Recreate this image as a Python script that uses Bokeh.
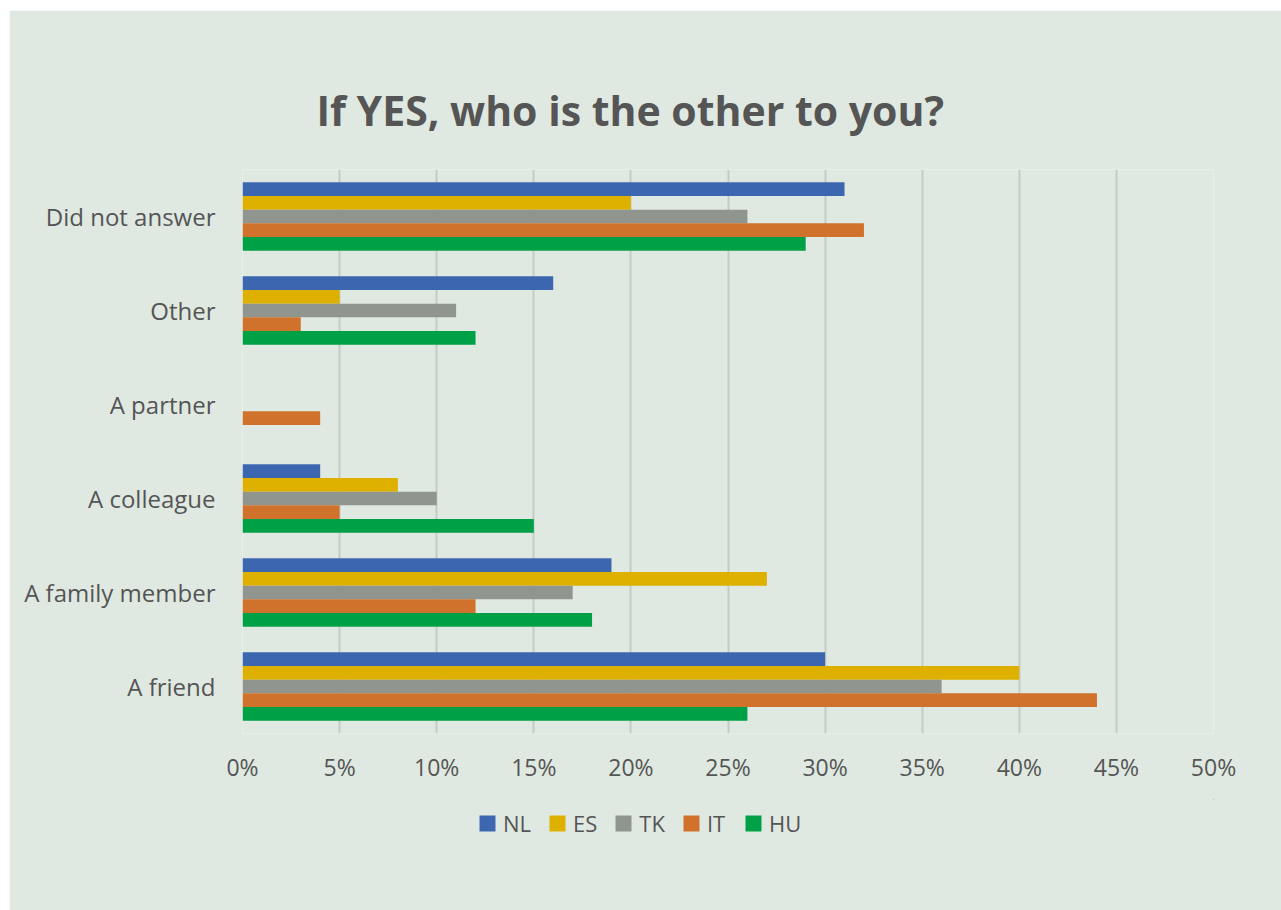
from bokeh.plotting import figure
from bokeh.models import FactorRange, Legend, LegendItem, NumeralTickFormatter, FixedTicker
from bokeh.layouts import column
from bokeh.transform import dodge
from bokeh.embed import file_html
from bokeh.resources import INLINE

categories = ["A friend", "A family member", "A colleague", "A partner", "Other", "Did not answer"]
series = ["NL", "ES", "TK", "IT", "HU"]
NL = [0.30, 0.19, 0.04, 0.00, 0.16, 0.31]
ES = [0.40, 0.27, 0.08, 0.00, 0.05, 0.20]
TK = [0.36, 0.17, 0.10, 0.00, 0.11, 0.26]
IT = [0.44, 0.12, 0.05, 0.04, 0.03, 0.32]
HU = [0.26, 0.18, 0.15, 0.00, 0.12, 0.29]
x_ticks = [0, 0.05, 0.10, 0.15, 0.20, 0.25, 0.30, 0.35, 0.40, 0.45, 0.50]
title_text = "If YES, who is the other to you?"

colors = ["#3C67B0", "#DEB000", "#909590", "#D0722C", "#00A046"]
BG = "#DFE9E1"
TXT = "#555555"
FONT = "Open Sans"

data = dict(cat=categories, NL=NL, ES=ES, TK=TK, IT=IT, HU=HU)

p = figure(width=1272, height=790, y_range=FactorRange(*categories), x_range=(0, 0.5),
           output_backend="svg", toolbar_location=None,
           min_border_left=233, min_border_right=68, min_border_top=159, min_border_bottom=67)
p.margin = (10, 0, 0, 9)
p.background_fill_color = BG
p.border_fill_color = BG
p.outline_line_color = None

bh = 0.146
offsets = [2 * bh, bh, 0, -bh, -2 * bh]
for s, c, off in zip(series, colors, offsets):
    p.hbar(y=dodge("cat", off, range=p.y_range), right=s, left=0, height=bh, source=data,
           fill_color=c, line_color=None)

p.xaxis.ticker = FixedTicker(ticks=x_ticks)
p.xaxis.formatter = NumeralTickFormatter(format="0%")
for ax in (p.xaxis[0], p.yaxis[0]):
    ax.axis_line_color = None
    ax.major_tick_line_color = None
    ax.minor_tick_line_color = None
    ax.major_label_text_font = FONT
    ax.major_label_text_color = TXT
p.xaxis.major_label_text_font_size = "23px"
p.yaxis.major_label_text_font_size = "24px"
p.xaxis.major_label_standoff = 11
p.yaxis.major_label_standoff = 21

p.xgrid.grid_line_color = "#C3CBC5"
p.xgrid.grid_line_width = 2
p.ygrid.grid_line_color = None

p.title.text = title_text
p.title.text_font = FONT
p.title.text_font_style = "bold"
p.title.text_font_size = "41px"
p.title.text_color = TXT
p.title.align = "left"
p.title.offset = 74
p.title.standoff = 63

# legend strip below the chart
lf = figure(width=1272, height=111, x_range=(0, 1), y_range=(0, 1),
            output_backend="svg", toolbar_location=None,
            x_axis_location=None, y_axis_location=None,
            min_border_left=0, min_border_right=0, min_border_top=0, min_border_bottom=0)
lf.margin = (-1, 0, 0, 9)
lf.background_fill_color = BG
lf.border_fill_color = BG
lf.outline_line_color = BG
lf.outline_line_width = 3
lf.grid.grid_line_color = None
items = []
for s, c in zip(series, colors):
    r = lf.hbar(y=[5], right=[5], left=4, height=0.1, fill_color=c, line_color=None)
    items.append(LegendItem(label=s, renderers=[r]))

legend = Legend(items=items, orientation="horizontal", location=(235, 72))
legend.background_fill_alpha = 0
legend.border_line_color = None
legend.padding = 0
legend.margin = 0
legend.spacing = 16
legend.label_standoff = 6
legend.glyph_width = 20
legend.glyph_height = 20
legend.label_text_font = FONT
legend.label_text_font_size = "22px"
legend.label_text_color = TXT
lf.add_layout(legend, "center")

layout = column(p, lf, spacing=0)
open("out.html", "w").write(file_html(layout, INLINE))
